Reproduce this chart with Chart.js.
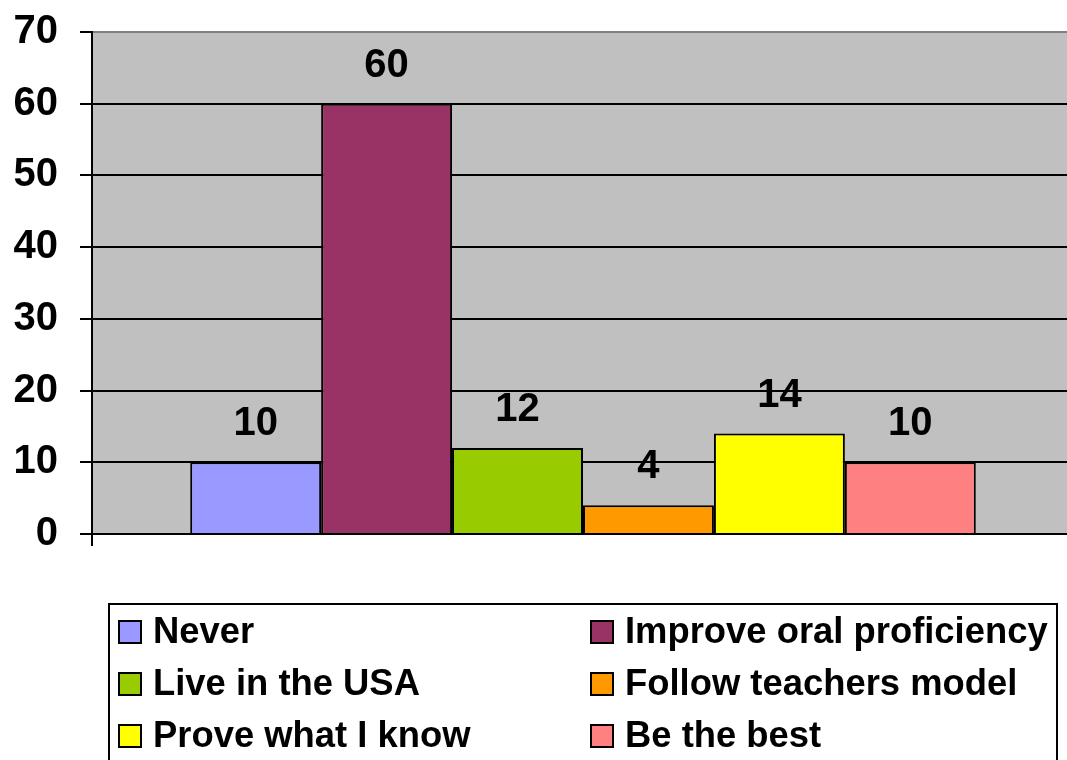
<!DOCTYPE html>
<html>
<head>
<meta charset="utf-8">
<title>Reasons</title>
<script src="https://cdn.jsdelivr.net/npm/chart.js@4.4.0/dist/chart.umd.min.js"></script>
<style>
  html, body { margin: 0; padding: 0; background: #fff; overflow: hidden; }
  #wrap { width: 1080px; height: 760px; }
</style>
</head>
<body>
<div id="wrap"><canvas id="grafico" width="1080" height="760"></canvas></div>
<script>
// datos del grafico
const categorias = ["Never", "Improve oral proficiency", "Live in the USA", "Follow teachers model", "Prove what I know", "Be the best"];
const valores = [10, 60, 12, 4, 14, 10];
const colores = ["#9999FF", "#993366", "#99CC00", "#FF9900", "#FFFF00", "#FF8080"];
const ticksY = [0, 10, 20, 30, 40, 50, 60, 70];

const FUENTE = '"Liberation Sans", Arial, sans-serif';
Chart.defaults.font.family = FUENTE;
Chart.defaults.color = "#000";

// fondo gris del area de trazado
const fondoGris = {
  id: "fondoGris",
  beforeDraw(chart) {
    const a = chart.chartArea;
    const c = chart.ctx;
    c.save();
    c.fillStyle = "#C0C0C0";
    c.fillRect(a.left, a.top, a.right - a.left, a.bottom - a.top);
    c.restore();
  }
};

// valores encima de cada barra
const etiquetas = {
  id: "etiquetas",
  afterDatasetsDraw(chart) {
    const c = chart.ctx;
    c.save();
    c.font = "bold 40px " + FUENTE;
    c.fillStyle = "#000";
    c.textAlign = "center";
    c.textBaseline = "alphabetic";
    chart.data.datasets.forEach((ds, i) => {
      const barra = chart.getDatasetMeta(i).data[0];
      c.fillText(String(ds.data[0]), barra.x, barra.y - 27);
    });
    c.restore();
  }
};

// leyenda en dos columnas dentro de un recuadro
const leyenda = {
  id: "leyenda",
  afterDraw(chart) {
    const c = chart.ctx;
    c.save();
    c.lineWidth = 2;
    c.strokeStyle = "#000";
    c.fillStyle = "#fff";
    c.fillRect(109, 604, 948, 160);
    c.strokeRect(109, 604, 948, 160);
    c.font = "bold 36.4px " + FUENTE;
    c.textBaseline = "alphabetic";
    c.textAlign = "left";
    chart.data.datasets.forEach((ds, i) => {
      const col = i % 2;
      const fila = Math.floor(i / 2);
      const x = col === 0 ? 119 : 591;
      const base = 643 + fila * 52;
      c.fillStyle = ds.backgroundColor;
      c.fillRect(x, base - 22, 22, 22);
      c.strokeRect(x, base - 22, 22, 22);
      c.fillStyle = "#000";
      c.fillText(ds.label, x + 34, base);
    });
    c.restore();
  }
};

const ctx = document.getElementById("grafico");
new Chart(ctx, {
  type: "bar",
  data: {
    labels: [""],
    datasets: categorias.map((nombre, i) => ({
      label: nombre,
      data: [valores[i]],
      backgroundColor: colores[i],
      borderColor: "#000",
      borderWidth: 2,
      categoryPercentage: 0.8,
      barPercentage: 1.0
    }))
  },
  options: {
    responsive: false,
    animation: false,
    layout: { padding: { top: 32, right: 6, left: 0, bottom: 0 } },
    plugins: {
      legend: { display: false },
      tooltip: { enabled: false }
    },
    scales: {
      x: {
        offset: true,
        ticks: { display: false },
        grid: {
          offset: true,
          drawOnChartArea: false,
          drawTicks: true,
          tickLength: 12,
          color: "#000",
          lineWidth: 2
        },
        border: { color: "#000", width: 2 },
        afterFit(s) { s.height = 226; }
      },
      y: {
        min: 0,
        max: 70,
        afterBuildTicks(s) { s.ticks = ticksY.map(v => ({ value: v })); },
        ticks: {
          padding: 22,
          font: { size: 40, weight: "bold" },
          color: "#000"
        },
        grid: {
          color: (c) => (c.tick && c.tick.value === 70 ? "#808080" : "#000"),
          tickColor: "#000",
          lineWidth: 2,
          tickLength: 12
        },
        border: { color: "#000", width: 2 },
        afterFit(s) {
          s.width = 92;
          s.paddingTop = 0;
          s.paddingBottom = 0;
        }
      }
    }
  },
  plugins: [fondoGris, etiquetas, leyenda]
});
</script>
</body>
</html>
